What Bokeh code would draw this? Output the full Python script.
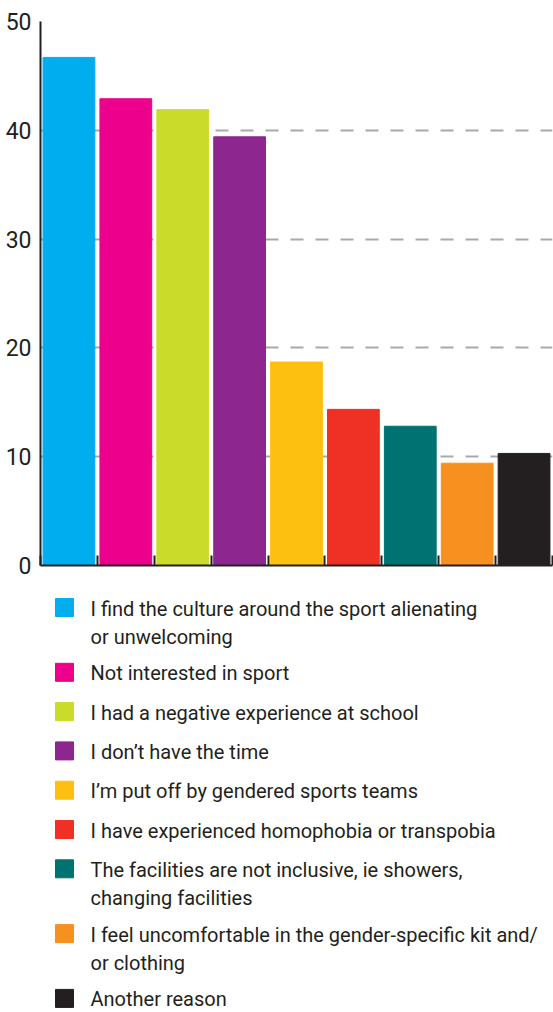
from bokeh.plotting import figure
from bokeh.models import FixedTicker, Range1d, ColumnDataSource
from bokeh.layouts import column
from bokeh.embed import file_html
from bokeh.resources import INLINE
from bokeh.core.properties import value

# ---- data ----
categories = [
    "I find the culture around the sport alienating\nor unwelcoming",
    "Not interested in sport",
    "I had a negative experience at school",
    "I don\u2019t have the time",
    "I\u2019m put off by gendered sports teams",
    "I have experienced homophobia or transpobia",
    "The facilities are not inclusive, ie showers,\nchanging facilities",
    "I feel uncomfortable in the gender-specific kit and/\nor clothing",
    "Another reason",
]
values = [46.7, 42.9, 41.9, 39.4, 18.7, 14.35, 12.8, 9.4, 10.3]
colors = ["#00aeef", "#ec008c", "#cbdb2a", "#8d278f", "#fdc010",
          "#ee3124", "#007271", "#f7901e", "#231f20"]
y_ticks = [0, 10, 20, 30, 40, 50]
grid_ticks = [10, 20, 30, 40]

FONT = "Roboto"
TXT = "#231f20"
W = 553
BL, BR = 40, 1

# ---- bar chart ----
n = len(categories)
xs = [i + 0.5 for i in range(n)]

CH = 580
p = figure(width=W, height=CH,
           x_range=Range1d(0, n), y_range=Range1d(0, 50),
           min_border_left=BL, min_border_right=BR,
           min_border_top=21, min_border_bottom=15,
           output_backend="svg", toolbar_location=None)
p.outline_line_color = None

src = ColumnDataSource(dict(x=xs, top=values, color=colors))
p.vbar(x="x", top="top", width=0.91, bottom=0, color="color", source=src)

p.xgrid.visible = False
p.ygrid.ticker = FixedTicker(ticks=grid_ticks)
p.ygrid.grid_line_color = "#a7a9ac"
p.ygrid.grid_line_width = 2
p.ygrid.grid_line_dash = "13 12"

p.yaxis.ticker = FixedTicker(ticks=y_ticks)
p.yaxis.axis_line_color = TXT
p.yaxis.axis_line_width = 2
p.yaxis.major_tick_line_color = None
p.yaxis.minor_tick_line_color = None
p.yaxis.major_tick_in = 0
p.yaxis.major_tick_out = 0
p.yaxis.major_label_standoff = 9
p.yaxis.major_label_text_font = FONT
p.yaxis.major_label_text_font_size = "23px"
p.yaxis.major_label_text_color = TXT

p.xaxis.ticker = FixedTicker(ticks=list(range(n + 1)))
p.xaxis.axis_line_color = TXT
p.xaxis.axis_line_width = 2
p.xaxis.major_tick_line_color = TXT
p.xaxis.major_tick_line_width = 2
p.xaxis.major_tick_in = 10
p.xaxis.major_tick_out = 0
p.xaxis.minor_tick_line_color = None
p.xaxis.major_label_overrides = {i: "" for i in range(n + 1)}
p.xaxis.major_label_standoff = 0

# ---- legend panel (coordinates = page pixels) ----
LH = 1012 - CH
lg = figure(width=W, height=LH, x_range=Range1d(BL, W - BR), y_range=Range1d(1012, CH),
            x_axis_type=None, y_axis_type=None,
            min_border_left=BL, min_border_right=BR, min_border_top=0, min_border_bottom=0,
            output_backend="svg", toolbar_location=None)
lg.outline_line_color = None
lg.grid.visible = False

sq_y, tx_y, tx = [], [], []
y = 607.0
for lab in categories:
    lines = lab.split("\n")
    sq_y.append(y)
    for j, ln in enumerate(lines):
        tx_y.append(y + 1 + 28 * j)
        tx.append(ln)
    y += 39.3 + 25.5 * (len(lines) - 1)

lg.rect(x=[64] * n, y=sq_y, width=18, height=18, width_units="screen",
        height_units="screen", color=colors)
lg.text(x=[90] * len(tx), y=tx_y, text=tx, text_font=value(FONT),
        text_font_size="20px", text_color=TXT, text_baseline="alphabetic",
        text_align="left")

layout = column(p, lg, spacing=0)
open("out.html", "w").write(file_html(layout, INLINE))
